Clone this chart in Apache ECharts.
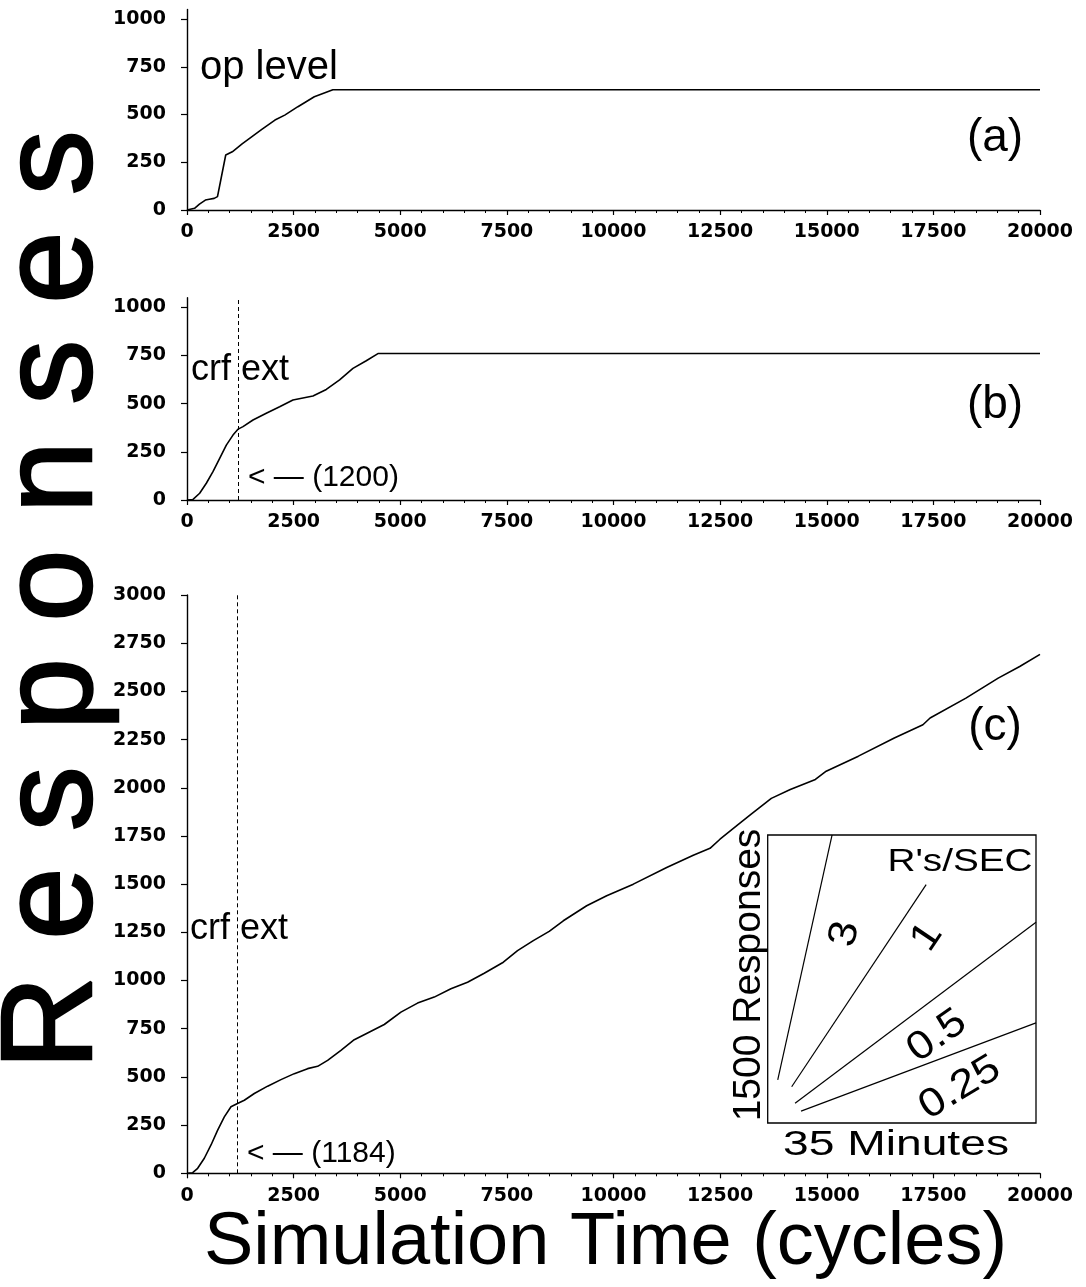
<!DOCTYPE html>
<html>
<head>
<meta charset="utf-8">
<script src="https://cdn.jsdelivr.net/npm/echarts@6/dist/echarts.min.js"></script>
<style>
  html, body { margin: 0; padding: 0; background: #fff; }
  #chart { width: 1086px; height: 1287px; }
</style>
</head>
<body>
<div id="chart"></div>
<script>
// Cumulative responses vs simulation time for three conditions
const panelLabels = ['(a)', '(b)', '(c)'];

// (a) operant level
const panelAData = [[0,0],[177,9],[292,31],[431,52],[523,56],[638,61],[715,70],[792,157],[908,288],
  [1062,305],[1292,346],[1523,384],[1754,422],[2062,471],[2292,497],[2600,541],[2985,593],[3420,630],[20000,630]];

// (b) CRF then extinction from cycle 1200
const panelBData = [[0,0],[141,3],[297,35],[453,87],[609,147],[766,216],[922,285],[1078,337],[1200,368],
  [1313,381],[1547,415],[1859,450],[2172,484],[2484,519],[2953,540],[3266,574],[3578,623],[3891,683],
  [4203,723],[4477,760],[20000,760]];

// (c) CRF then extinction from cycle 1184
const panelCData = [[0,0],[133,3],[250,26],[406,78],[563,147],[719,224],[875,293],[1031,345],[1184,362],
  [1344,379],[1578,414],[1891,452],[2203,486],[2516,517],[2828,543],[3063,555],[3297,586],[3609,638],
  [3922,693],[4234,728],[4625,772],[5016,836],[5406,883],[5797,914],[6188,957],[6578,991],[6969,1038],
  [7417,1095],[7750,1155],[8120,1207],[8492,1255],[8823,1310],[9371,1388],[9840,1440],[10465,1500],
  [11247,1586],[11871,1650],[12263,1686],[12497,1733],[12927,1810],[13221,1862],[13700,1945],
  [14145,1991],[14734,2043],[14987,2086],[15742,2164],[16584,2258],[17255,2327],[17423,2362],
  [18263,2465],[19020,2569],[19524,2629],[20000,2692]];

const extinctionB = 1200;
const extinctionC = 1184;

// tick values
const xTickStep = 2500;
const yTicksAB = [0, 250, 500, 750, 1000];
const yTicksC = [0, 250, 500, 750, 1000, 1250, 1500, 1750, 2000, 2250, 2500, 2750, 3000];

// inset: reference slopes (responses per second) over a 35 min x 1500 response frame
const insetRates = [3, 1, 0.5, 0.25];
const insetStartMin = [1.31, 3.13, 3.57, 4.35];
const insetStartResp = [224, 189, 103, 62];
const insetEndMin = [8.4, 20.67, 35, 35];

const tickFont = { fontFamily: 'DejaVu Sans', fontWeight: 'bold', fontSize: 19, color: '#000' };
const axisLineStyle = { lineStyle: { color: '#000', width: 1.4 } };

function xAxisFor(gridIndex, extra) {
  return Object.assign({
    type: 'value', gridIndex, min: 0, max: 20000, interval: xTickStep,
    axisLine: axisLineStyle,
    axisTick: { show: true, length: 5, lineStyle: { color: '#000', width: 1.2 } },
    minorTick: { show: true, splitNumber: 5, length: 3, lineStyle: { color: '#000', width: 1 } },
    splitLine: { show: false },
    axisLabel: Object.assign({ margin: 13, formatter: v => String(v) }, tickFont)
  }, extra || {});
}

function yAxisFor(gridIndex, max, ticks) {
  return {
    type: 'value', gridIndex, min: 0, max,
    axisLine: { show: true, lineStyle: { color: '#000', width: 1.4 } },
    axisTick: { show: true, length: 6, customValues: ticks, lineStyle: { color: '#000', width: 1.2 } },
    splitLine: { show: false },
    axisLabel: Object.assign({ margin: 21, customValues: ticks, formatter: v => String(v) }, tickFont)
  };
}

const curveStyle = { color: '#000', width: 1.6 };
function extinctionLine(x) {
  return {
    symbol: 'none', silent: true, label: { show: false },
    lineStyle: { type: [4, 3], color: '#000', width: 1 },
    data: [{ xAxis: x }]
  };
}

const insetSeries = insetRates.map((rate, i) => {
  const t0 = insetStartMin[i], r0 = insetStartResp[i], t1 = insetEndMin[i];
  const r1 = r0 + rate * 60 * (t1 - t0);
  return {
    type: 'line', xAxisIndex: 3, yAxisIndex: 3, showSymbol: false, silent: true,
    lineStyle: { color: '#000', width: 1.2 },
    data: [[t0, r0], [t1, r1]]
  };
});

const sans = 'Liberation Sans';
function label(text, x, y, size, extra) {
  return {
    type: 'text', x, y, silent: true, z: 10,
    style: Object.assign({ text, fontFamily: sans, fontSize: size, fill: '#000', align: 'left', verticalAlign: 'middle' }, extra || {})
  };
}
const deg = Math.PI / 180;
const insetLabelPos = [[845, 934, 78], [927, 937, 56], [937, 1036, 35], [960, 1088, 31]];

const bigTitle = label('R e s p o n s e s', 55, 600, 130, { align: 'center', stroke: '#000', lineWidth: 2.5 });
bigTitle.rotation = Math.PI / 2;

const option = {
  animation: false,
  backgroundColor: '#fff',
  grid: [
    { left: 187, top: 9.5, width: 853, height: 200.5 },
    { left: 187, top: 297.7, width: 853, height: 202.3 },
    { left: 187, top: 595, width: 853, height: 578.3 },
    { left: 767.7, top: 835, width: 268.3, height: 288, show: true, borderColor: '#000', borderWidth: 1.3, backgroundColor: '#fff', z: 3 }
  ],
  xAxis: [
    xAxisFor(0), xAxisFor(1),
    xAxisFor(2, {
      name: 'Simulation Time (cycles)', nameLocation: 'middle', nameGap: 31,
      nameTextStyle: { fontFamily: sans, fontSize: 74, color: '#000', padding: [0, 16, 0, 0] }
    }),
    { type: 'value', gridIndex: 3, min: 0, max: 35, show: false }
  ],
  yAxis: [
    yAxisFor(0, 1050, yTicksAB),
    yAxisFor(1, 1050, yTicksAB),
    yAxisFor(2, 3000, yTicksC),
    { type: 'value', gridIndex: 3, min: 0, max: 1500, show: false }
  ],
  series: [
    { type: 'line', xAxisIndex: 0, yAxisIndex: 0, showSymbol: false, lineStyle: curveStyle, data: panelAData },
    { type: 'line', xAxisIndex: 1, yAxisIndex: 1, showSymbol: false, lineStyle: curveStyle, data: panelBData,
      markLine: extinctionLine(extinctionB) },
    { type: 'line', xAxisIndex: 2, yAxisIndex: 2, showSymbol: false, lineStyle: curveStyle, data: panelCData,
      markLine: extinctionLine(extinctionC) }
  ].concat(insetSeries),
  graphic: [
    bigTitle,
    label('op level', 200, 68, 40),
    label(panelLabels[0], 995, 138, 46, { align: 'center' }),
    label('crf ext', 191, 370, 36),
    label('< \u2014 (' + extinctionB + ')', 248, 478, 30),
    label(panelLabels[1], 995, 405, 46, { align: 'center' }),
    label('crf ext', 190, 929, 36),
    label('< \u2014 (' + extinctionC + ')', 247, 1154, 30),
    label(panelLabels[2], 995, 727, 46, { align: 'center' }),
    // inset captions
    { type: 'text', x: 960, y: 862, scaleX: 1.25, silent: true, z: 10,
      style: { text: "R's/SEC", fontFamily: sans, fontSize: 31, fill: '#000', align: 'center', verticalAlign: 'middle' } },
    { type: 'text', x: 896, y: 1145, scaleX: 1.32, silent: true, z: 10,
      style: { text: '35 Minutes', fontFamily: sans, fontSize: 35, fill: '#000', align: 'center', verticalAlign: 'middle' } },
    { type: 'text', x: 749, y: 975, rotation: Math.PI / 2, silent: true, z: 10,
      style: { text: '1500 Responses', fontFamily: sans, fontSize: 39, fill: '#000', align: 'center', verticalAlign: 'middle' } }
  ].concat(insetRates.map((rate, i) => ({
    type: 'text', x: insetLabelPos[i][0], y: insetLabelPos[i][1], rotation: insetLabelPos[i][2] * deg,
    scaleX: 1.12, silent: true, z: 10,
    style: { text: String(rate), fontFamily: sans, fontSize: 40, fill: '#000', align: 'center', verticalAlign: 'middle' }
  })))
};

const chart = echarts.init(document.getElementById('chart'), null, { renderer: 'canvas' });
chart.setOption(option);
</script>
</body>
</html>
